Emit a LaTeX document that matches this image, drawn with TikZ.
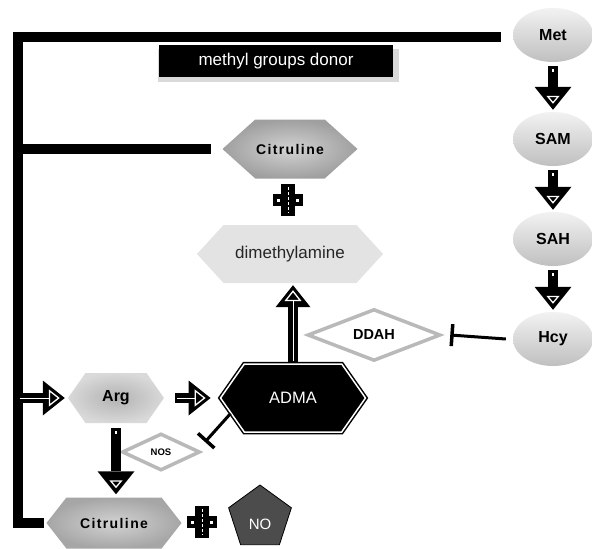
\documentclass[tikz,border=0pt]{standalone}
\usepackage{fontspec}
\setmainfont{Liberation Sans}
\newfontfamily\spacedfont[LetterSpace=10]{Liberation Sans}
\usetikzlibrary{shapes.geometric,shapes.symbols,arrows.meta,shadows,positioning}

\tikzset{
    pool/.style={ellipse, minimum width=80pt, minimum height=54pt, inner sep=0pt,
        top color=gray!10, bottom color=gray!50, font=\fontsize{16}{19}\selectfont\bfseries},
    hexbox/.style={signal, signal to=west and east, inner sep=0pt},
    citbox/.style={hexbox, inner color=gray!35, outer color=gray!75,
        minimum width=135pt, font=\fontsize{14}{17}\selectfont\spacedfont\bfseries},
    enzyme/.style={diamond, draw=gray!55, line width=3.5pt, fill=white, inner sep=0pt, font=\bfseries},
    bus/.style={draw=black, line width=10pt, line join=miter},
    fatarrow/.style={draw=black, line width=10pt,
        -{Triangle[length=23pt,width=37pt,line width=0pt]},
        postaction={draw=white, line width=2.5pt, dash pattern=on 0pt off 3pt on 3pt off 400pt,
            shorten >=6pt, -{Triangle[open,length=8pt,width=13pt,line width=1.3pt]}}},
    flowarrow/.style={draw=black, line width=10pt,
        -{Triangle[length=22pt,width=35pt,line width=0pt]},
        postaction={draw=white, line width=1pt, shorten <=2pt,
            shorten >=5pt, -{Triangle[open,length=11pt,width=17pt,line width=1.3pt]}}},
    inhibit/.style={draw=black, line width=3pt, -{Bar[width=22pt,line width=3.5pt]}},
    plusmark/.pic={
        \fill[black] (-7,-16) rectangle (7,16);
        \fill[black] (-15,-6) rectangle (15,6);
        \draw[white, line width=1pt, dash pattern=on 3pt off 2pt] (0,-13) -- (0,13);
        \fill[white] (-11,-1.5) rectangle (-8,1.5);
        \fill[white] (8,-1.5) rectangle (11,1.5);
    }
}

\begin{document}
\begin{tikzpicture}[x=1pt, y=-1pt]
    \useasboundingbox[fill=white] (0,0) rectangle (592,549);

    % methionine cycle
    \node[pool] (met) at (553,35) {Met};
    \node[pool] (sam) at (553,139) {SAM};
    \node[pool] (sah) at (553,239) {SAH};
    \node[pool] (hcy) at (553,339) {Hcy};

    \draw[fatarrow] ([yshift=-4pt]met.south) -- ([yshift=2pt]sam.north);
    \draw[fatarrow] ([yshift=-4pt]sam.south) -- ([yshift=2pt]sah.north);
    \draw[fatarrow] ([yshift=-4pt]sah.south) -- ([yshift=2pt]hcy.north);

    % donor label
    \node[fill=black, text=white, minimum width=234pt, minimum height=32pt,
        font=\fontsize{17}{20}\selectfont,
        drop shadow={shadow xshift=2pt, shadow yshift=-4pt, shadow scale=1.03, fill=gray!30, opacity=1}]
        (donor) at (276,61) {methyl groups donor};

    % products
    \node[citbox, minimum height=59pt, signal pointer angle=84] (cit top) at (290,149) {Citruline};
    \pic at (288,200) {plusmark};
    \node[hexbox, fill=gray!22, minimum width=186pt, minimum height=58pt, signal pointer angle=95,
        text=black!85, font=\fontsize{17}{20}\selectfont] (dma) at (290,254) {dimethylamine};

    \node[enzyme, minimum width=133pt, minimum height=48pt, font=\fontsize{14.5}{17}\selectfont\bfseries]
        (ddah) at (374,335) {DDAH};

    \node[hexbox, fill=black, draw=black, double=white, double distance=1.5pt, line width=1.5pt,
        minimum width=145pt, minimum height=68pt, signal pointer angle=110,
        text=white, font=\fontsize{16.5}{19}\selectfont] (adma) at (293,398) {ADMA};

    \node[hexbox, inner color=gray!60, outer color=gray!30, minimum width=96pt, minimum height=50pt,
        signal pointer angle=110, font=\fontsize{16}{19}\selectfont\bfseries] (arg) at (116,398) {Arg};

    \node[enzyme, minimum width=78pt, minimum height=37pt, font=\fontsize{9.5}{11}\selectfont\bfseries]
        (nos) at (161,452) {NOS};

    \node[citbox, inner color=gray!35, outer color=gray!70, minimum height=51pt,
        signal pointer angle=104] (cit low) at (114,523) {Citruline};
    \pic at (202,522) {plusmark};
    \node[regular polygon, regular polygon sides=5, minimum size=66pt, inner sep=0pt,
        fill=black!70, draw=black, line width=0.8pt, text=white, text height=24pt,
        font=\fontsize{15}{18}\selectfont] (no) at (260,518) {NO};

    % bus on the left
    \coordinate (bus top) at (17.5,37);
    \coordinate (bus bottom) at (17.5,523);
    \draw[bus] ([xshift=-12pt]met.west |- bus top) -- (bus top) -- (bus bottom) -- ([xshift=-2pt]cit low.west);
    \draw[bus] (bus top |- cit top) -- ([xshift=-11pt]cit top.west);

    % arrows
    \draw[flowarrow] (bus top |- arg) -- ([xshift=-3pt]arg.west);
    \draw[flowarrow] ([xshift=11pt]arg.east) -- ([xshift=-9pt]adma.west);
    \draw[fatarrow] ([yshift=-5pt]arg.south) -- ([yshift=3pt]arg.south |- cit low.north);
    \draw[flowarrow] (adma.north) -- ([yshift=-2pt]adma.north |- dma.south);

    % inhibition
    \coordinate (nos stop) at (205,442);
    \draw[inhibit] ([xshift=-7pt]hcy.west) -- ([xshift=8pt]ddah.east);
    \draw[inhibit] (adma.194) -- (nos stop);
\end{tikzpicture}
\end{document}
